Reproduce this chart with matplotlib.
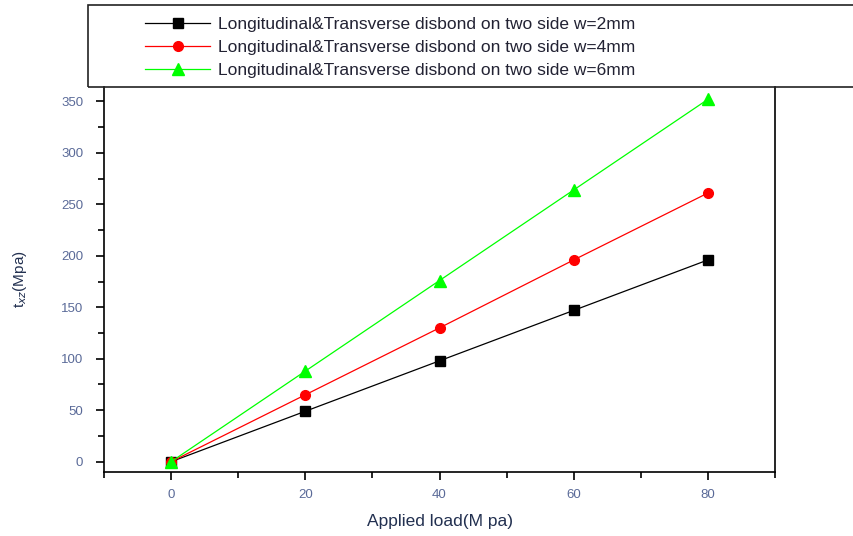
import matplotlib
matplotlib.use("Agg")
import matplotlib.pyplot as plt
from matplotlib.patches import Rectangle
from matplotlib.ticker import MultipleLocator

# Datos
carga = [0, 20, 40, 60, 80]
w2 = [0, 49, 98, 147, 196]
w4 = [0, 65, 130, 196, 261]
w6 = [0, 88, 176, 264, 352]
etiquetas = [
    "Longitudinal&Transverse disbond on two side w=2mm",
    "Longitudinal&Transverse disbond on two side w=4mm",
    "Longitudinal&Transverse disbond on two side w=6mm",
]

plt.rcParams["font.family"] = ["Liberation Sans", "DejaVu Sans"]
color_ticks = "#5a6a98"
color_txt = "#223050"

fig = plt.figure(figsize=(8.54, 5.36), dpi=100)
ax = fig.add_axes([0.1218, 0.1194, 0.7857, 0.7183])

l1, = ax.plot(carga, w2, color="black", marker="s", markersize=7, lw=0.9)
l2, = ax.plot(carga, w4, color="red", marker="o", markersize=7, lw=0.9)
l3, = ax.plot(carga, w6, color="#00ff00", marker="^", markersize=8, lw=0.9)

ax.set_xlim(-10, 90)
ax.set_ylim(-10, 364)
ax.xaxis.set_major_locator(MultipleLocator(20))
ax.xaxis.set_minor_locator(MultipleLocator(10))
ax.yaxis.set_major_locator(MultipleLocator(50))
ax.yaxis.set_minor_locator(MultipleLocator(25))

for lado in ["left", "right", "bottom"]:
    ax.spines[lado].set_linewidth(1.2)
ax.spines["top"].set_visible(False)
ax.tick_params(which="major", direction="out", length=6, width=1.2,
               labelsize=9.5, labelcolor=color_ticks)
ax.tick_params(axis="y", which="major", pad=9)
ax.tick_params(axis="x", which="major", pad=6)
ax.tick_params(which="minor", direction="out", length=4, width=1.2)

ax.set_xlabel("Applied load(M pa)", fontsize=12.5, color=color_txt)
ax.xaxis.set_label_coords(0.5, -0.108)
ax.set_ylabel("t$_{xz}$(Mpa)", fontsize=11, color=color_txt)
ax.yaxis.set_label_coords(-0.112, 0.5)

# Recuadro de la leyenda
fig.patches.append(Rectangle((0.103, 0.8377), 0.91, 0.153,
                             transform=fig.transFigure, fill=False,
                             edgecolor="#222222", lw=1.2, zorder=5))
fig.legend([l1, l2, l3], etiquetas, loc="upper left",
           bbox_to_anchor=(0.152, 0.997), frameon=False, fontsize=12.5,
           handlelength=3.7, labelspacing=0.45, handletextpad=0.5,
           labelcolor="#222233")

plt.savefig("out.png", dpi=100)
